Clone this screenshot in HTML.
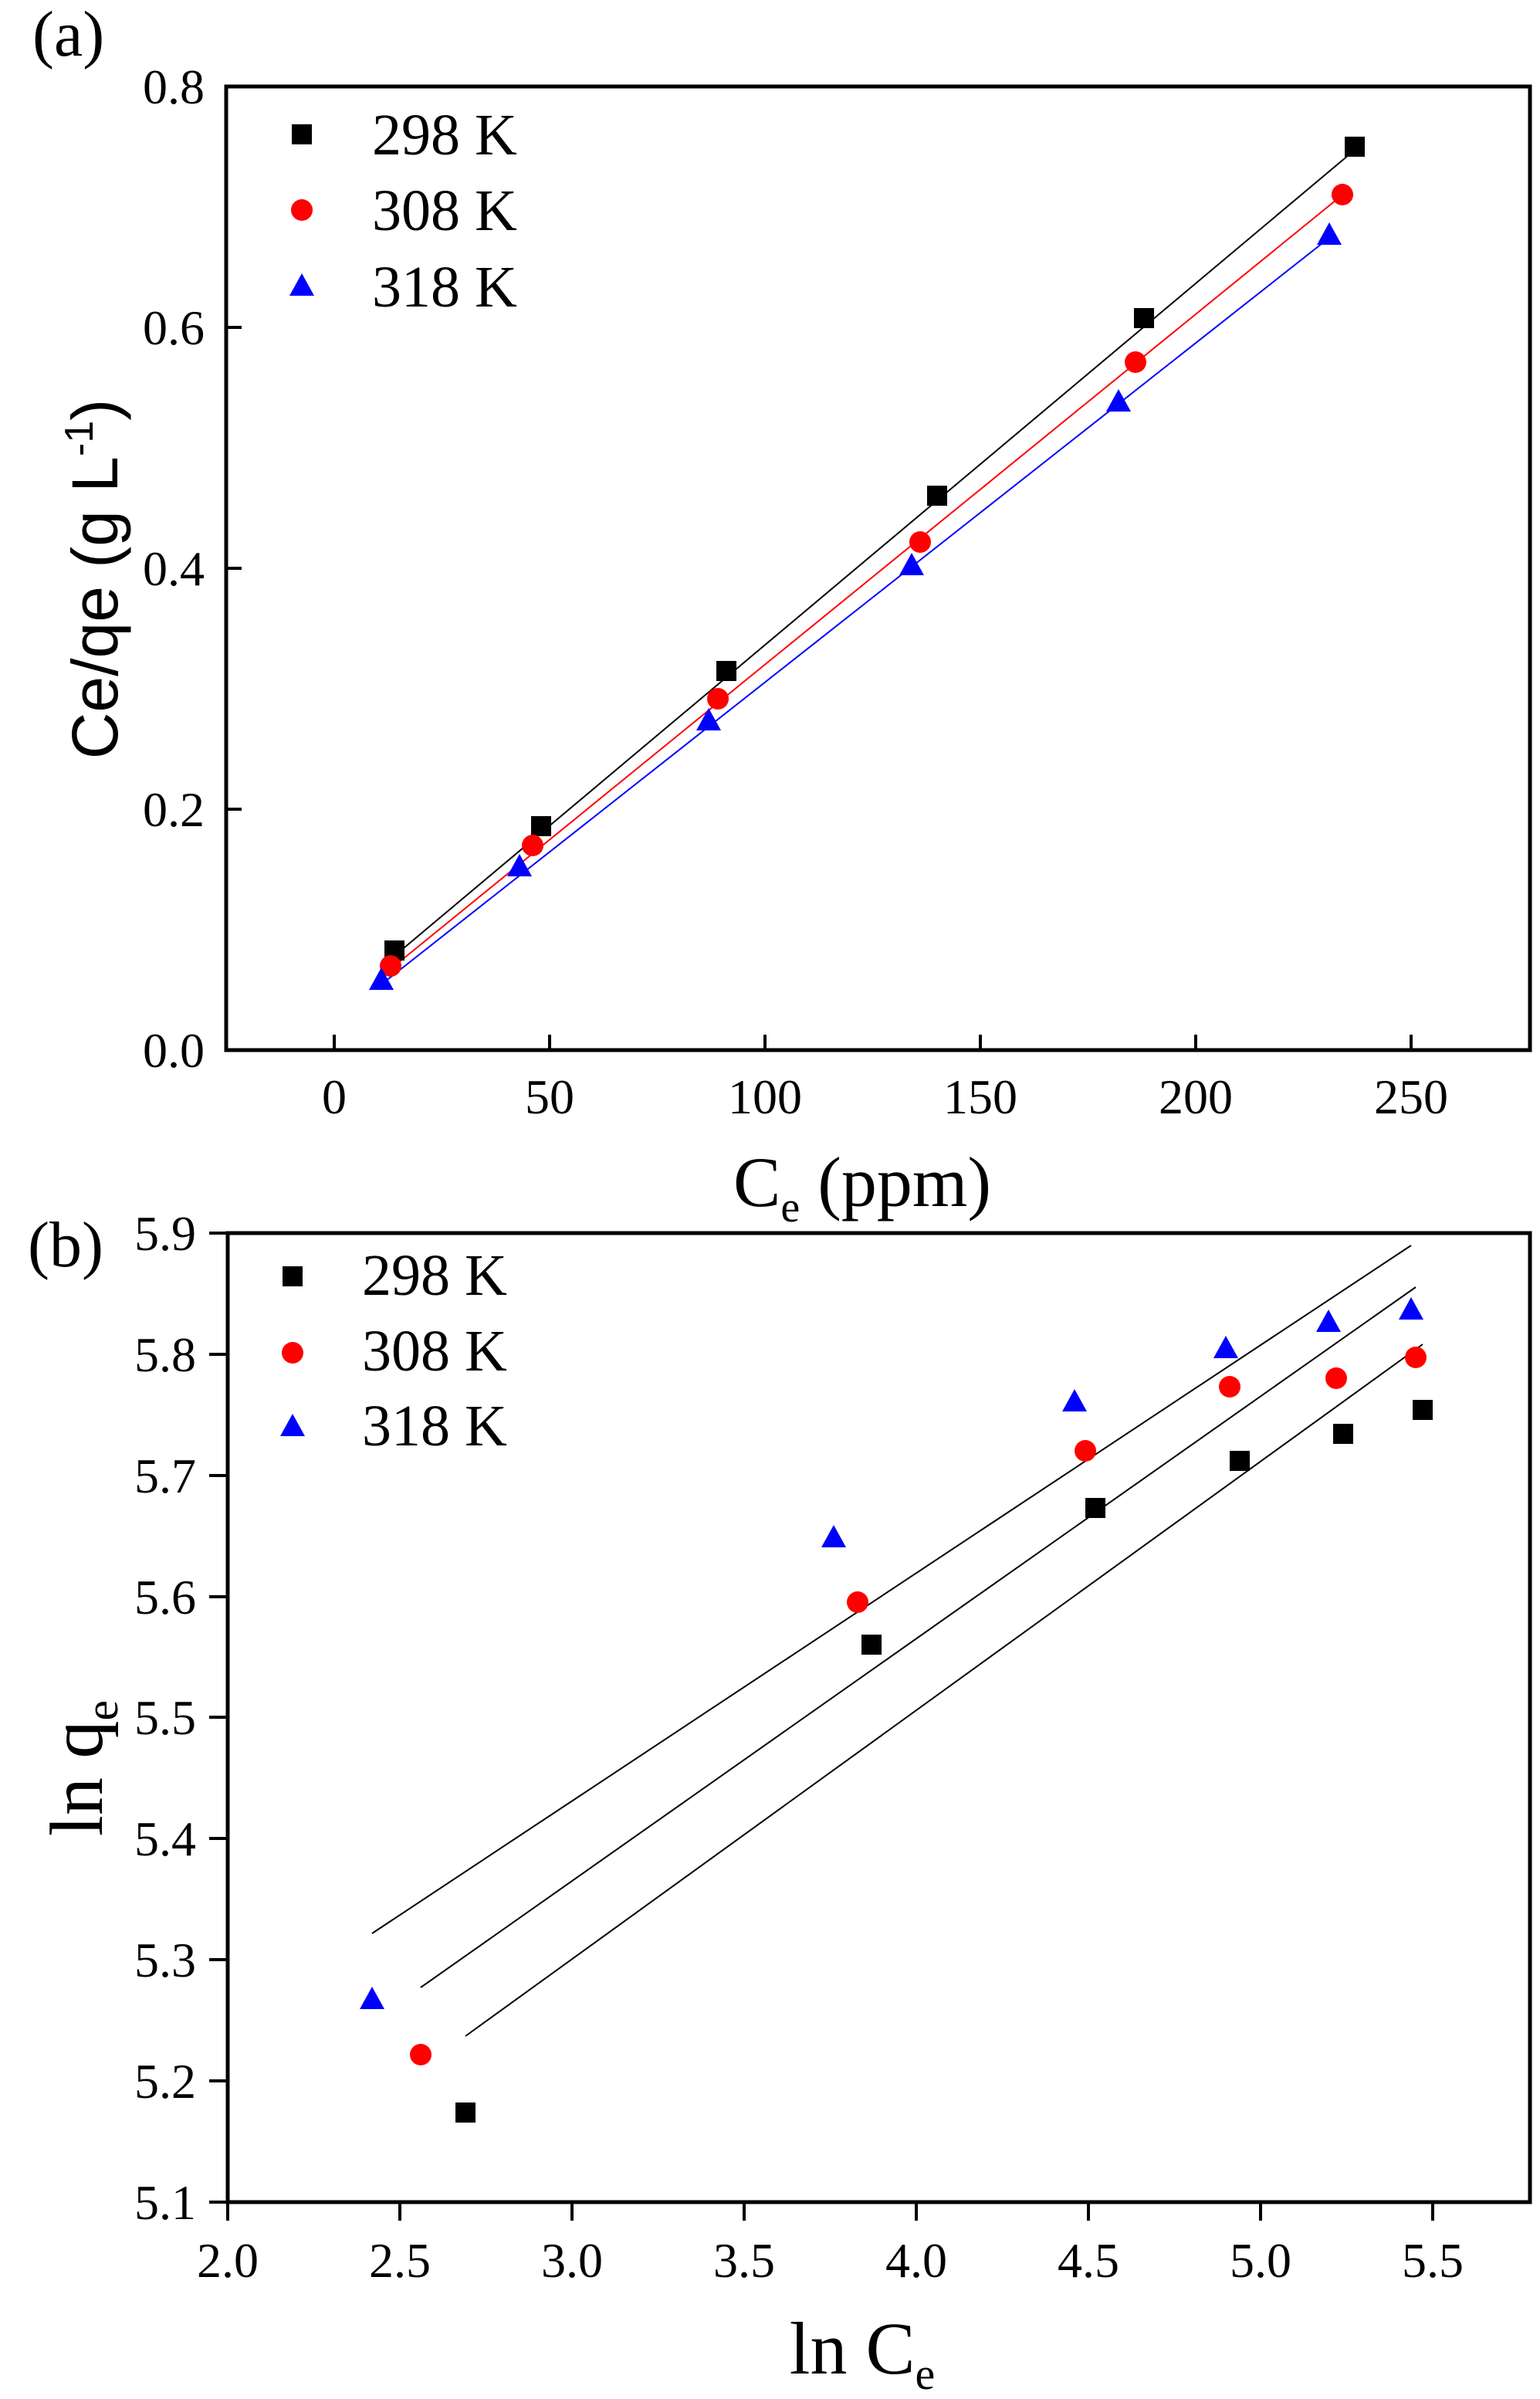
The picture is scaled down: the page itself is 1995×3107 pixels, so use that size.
<!DOCTYPE html>
<html><head><meta charset="utf-8"><style>html,body{margin:0;padding:0;background:#fff}svg{display:block}text{font-family:"Liberation Serif",serif;fill:#000}</style></head>
<body>
<svg width="1995" height="3107" viewBox="0 0 1995 3107" xmlns="http://www.w3.org/2000/svg">
<defs>
<rect id="sq" x="-13" y="-13" width="26" height="26" fill="#000"/>
<circle id="ci" r="14" fill="#f00"/>
<polygon id="tr" points="0,-17 16,12 -16,12" fill="#00f"/>
</defs>
<!-- Panel a -->
<text x="42" y="72" font-size="84">(a)</text>
<rect x="293" y="112" width="1689" height="1248" fill="none" stroke="#000" stroke-width="5"/>
<g stroke="#000" stroke-width="4">
<line x1="433" y1="1360" x2="433" y2="1340"/><line x1="712" y1="1360" x2="712" y2="1340"/><line x1="991" y1="1360" x2="991" y2="1340"/><line x1="1270" y1="1360" x2="1270" y2="1340"/><line x1="1549" y1="1360" x2="1549" y2="1340"/><line x1="1828" y1="1360" x2="1828" y2="1340"/>
<line x1="293" y1="1048" x2="313" y2="1048"/><line x1="293" y1="736" x2="313" y2="736"/><line x1="293" y1="424" x2="313" y2="424"/><line x1="293" y1="112" x2="313" y2="112"/>
</g>
<g font-size="64" text-anchor="middle">
<text x="433" y="1442">0</text><text x="712" y="1442">50</text><text x="991" y="1442">100</text><text x="1270" y="1442">150</text><text x="1549" y="1442">200</text><text x="1828" y="1442">250</text>
</g>
<g font-size="64" text-anchor="end">
<text x="265" y="1382">0.0</text><text x="265" y="1070">0.2</text><text x="265" y="758">0.4</text><text x="265" y="446">0.6</text><text x="265" y="134">0.8</text>
</g>
<text x="1117" y="1562" font-size="92" text-anchor="middle">C<tspan font-size="56" dy="20">e</tspan><tspan dy="-20"> (ppm)</tspan></text>
<text transform="translate(152,750) rotate(-90)" font-size="84" text-anchor="middle" style="font-family:'Liberation Sans',sans-serif">Ce/qe (g L<tspan font-size="52" dy="-32">-1</tspan><tspan dy="32">)</tspan></text>
<g stroke-width="2">
<line x1="511" y1="1238" x2="1760" y2="190" stroke="#000"/>
<line x1="506" y1="1255" x2="1742" y2="250" stroke="#f00"/>
<line x1="494" y1="1275" x2="1722" y2="308" stroke="#00f"/>
</g>
<use href="#sq" x="511" y="1231"/><use href="#sq" x="701" y="1070"/><use href="#sq" x="941" y="869"/><use href="#sq" x="1214" y="642"/><use href="#sq" x="1482" y="412"/><use href="#sq" x="1755" y="190"/>
<use href="#ci" x="506" y="1251"/><use href="#ci" x="690" y="1095"/><use href="#ci" x="930" y="905"/><use href="#ci" x="1192" y="702"/><use href="#ci" x="1471" y="469"/><use href="#ci" x="1739" y="252"/>
<use href="#tr" x="494" y="1270"/><use href="#tr" x="673" y="1123"/><use href="#tr" x="918" y="934"/><use href="#tr" x="1181" y="733"/><use href="#tr" x="1449" y="521"/><use href="#tr" x="1722" y="305"/>
<use href="#sq" x="391" y="174"/><use href="#ci" x="391" y="272"/><use href="#tr" x="391" y="371"/>
<g font-size="76"><text x="482" y="200">298 K</text><text x="482" y="298">308 K</text><text x="482" y="397">318 K</text></g>

<!-- Panel b -->
<text x="36" y="1640" font-size="84">(b)</text>
<rect x="295" y="1597" width="1687" height="1255" fill="none" stroke="#000" stroke-width="5"/>
<g stroke="#000" stroke-width="4">
<line x1="295" y1="2852" x2="295" y2="2876"/><line x1="518" y1="2852" x2="518" y2="2876"/><line x1="741" y1="2852" x2="741" y2="2876"/><line x1="964" y1="2852" x2="964" y2="2876"/><line x1="1187" y1="2852" x2="1187" y2="2876"/><line x1="1410" y1="2852" x2="1410" y2="2876"/><line x1="1633" y1="2852" x2="1633" y2="2876"/><line x1="1856" y1="2852" x2="1856" y2="2876"/>
<line x1="271" y1="2852" x2="295" y2="2852"/><line x1="271" y1="2695" x2="295" y2="2695"/><line x1="271" y1="2538" x2="295" y2="2538"/><line x1="271" y1="2381" x2="295" y2="2381"/><line x1="271" y1="2224" x2="295" y2="2224"/><line x1="271" y1="2068" x2="295" y2="2068"/><line x1="271" y1="1911" x2="295" y2="1911"/><line x1="271" y1="1754" x2="295" y2="1754"/><line x1="271" y1="1597" x2="295" y2="1597"/>
</g>
<g font-size="64" text-anchor="middle">
<text x="295" y="2949">2.0</text><text x="518" y="2949">2.5</text><text x="741" y="2949">3.0</text><text x="964" y="2949">3.5</text><text x="1187" y="2949">4.0</text><text x="1410" y="2949">4.5</text><text x="1633" y="2949">5.0</text><text x="1856" y="2949">5.5</text>
</g>
<g font-size="64" text-anchor="end">
<text x="254" y="2874">5.1</text><text x="254" y="2717">5.2</text><text x="254" y="2560">5.3</text><text x="254" y="2403">5.4</text><text x="254" y="2246">5.5</text><text x="254" y="2090">5.6</text><text x="254" y="1933">5.7</text><text x="254" y="1776">5.8</text><text x="254" y="1619">5.9</text>
</g>
<text x="1117" y="3074" font-size="96" text-anchor="middle">ln C<tspan font-size="58" dy="20">e</tspan></text>
<text transform="translate(132,2290) rotate(-90)" font-size="98" text-anchor="middle">ln q<tspan font-size="60" dy="20">e</tspan></text>
<g stroke="#000" stroke-width="2">
<line x1="482" y1="2504" x2="1828" y2="1613"/>
<line x1="545" y1="2574" x2="1834" y2="1667"/>
<line x1="603" y1="2637" x2="1843" y2="1741"/>
</g>
<use href="#sq" x="603" y="2736"/><use href="#sq" x="1129" y="2130"/><use href="#sq" x="1419" y="1953"/><use href="#sq" x="1606" y="1892"/><use href="#sq" x="1740" y="1857"/><use href="#sq" x="1843" y="1826"/>
<use href="#ci" x="545" y="2661"/><use href="#ci" x="1111" y="2075"/><use href="#ci" x="1406" y="1879"/><use href="#ci" x="1593" y="1796"/><use href="#ci" x="1731" y="1785"/><use href="#ci" x="1834" y="1758"/>
<use href="#tr" x="482" y="2590"/><use href="#tr" x="1080" y="1992"/><use href="#tr" x="1392" y="1816"/><use href="#tr" x="1588" y="1747"/><use href="#tr" x="1721" y="1713"/><use href="#tr" x="1828" y="1697"/>
<use href="#sq" x="379" y="1653"/><use href="#ci" x="379" y="1752"/><use href="#tr" x="379" y="1848"/>
<g font-size="76"><text x="469" y="1677">298 K</text><text x="469" y="1775">308 K</text><text x="469" y="1872">318 K</text></g>
</svg>
</body></html>
